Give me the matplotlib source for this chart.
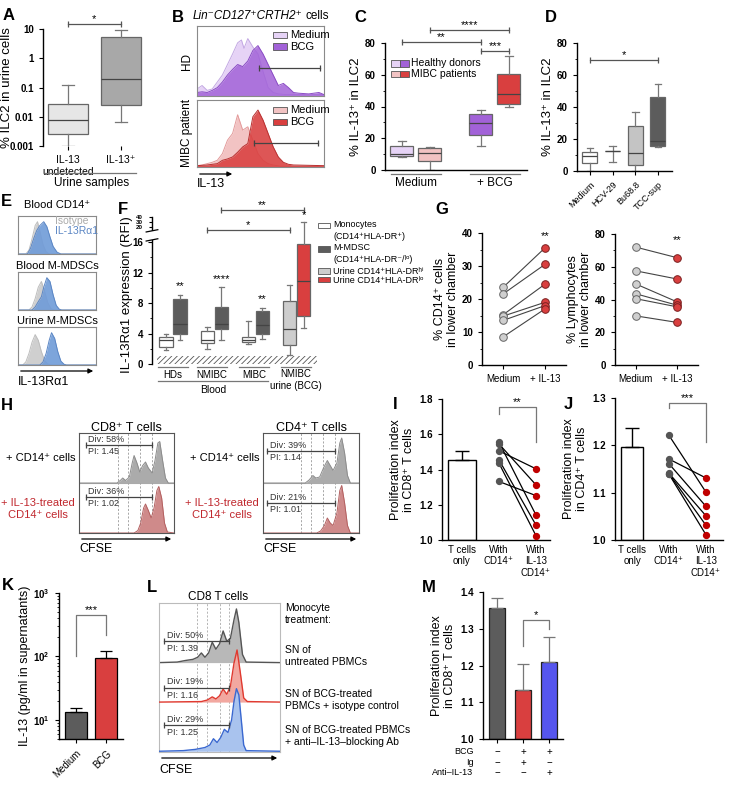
import numpy as np
import matplotlib
matplotlib.use("Agg")
import matplotlib.pyplot as plt
from matplotlib.patches import Rectangle, FancyArrowPatch
from matplotlib.ticker import NullLocator, FixedLocator

plt.rcParams['font.family'] = ['Liberation Sans', 'DejaVu Sans']
plt.rcParams['font.size'] = 7
plt.rcParams['mathtext.fontset'] = 'custom'
plt.rcParams['mathtext.rm'] = 'Liberation Sans'
plt.rcParams['mathtext.bf'] = 'Liberation Sans:bold'
plt.rcParams['axes.linewidth'] = 1.0
plt.rcParams['xtick.major.size'] = 3
plt.rcParams['ytick.major.size'] = 3
plt.rcParams['ytick.minor.size'] = 1.8
plt.rcParams['xtick.labelsize'] = 7
plt.rcParams['ytick.labelsize'] = 7
plt.rcParams['hatch.linewidth'] = 0.6

RED = '#d93f3f'
LAV = '#e6d3f6'
PUR = '#a262d8'
PINK = '#f2c3c3'
DARK = '#5c5c5c'

# ==========================
# data
# ==========================
# A - five number summaries (whislo, q1, med, q3, whishi)
a_labels = ['IL-13\nundetected', 'IL-13⁺']
a_boxes = [(0.001, 0.0026, 0.008, 0.027, 0.12), (0.0065, 0.025, 0.19, 5.3, 9.0)]

# B - flow histograms, (x fraction, height fraction)
b_hd_medium = [(0, .10), (.04, .15), (.08, .08), (.12, .10), (.16, .20), (.20, .30), (.24, .45), (.28, .60),
               (.32, .76), (.35, .80), (.37, .68), (.40, .82), (.44, .70), (.48, .60), (.52, .35), (.56, .12),
               (.60, .05), (.64, .03), (.70, .02), (1, .02)]
b_hd_bcg = [(0, .05), (.04, .06), (.08, .05), (.12, .08), (.16, .12), (.20, .20), (.24, .30), (.28, .38),
            (.32, .45), (.36, .42), (.40, .50), (.44, .65), (.48, .72), (.52, .60), (.56, .45), (.60, .30),
            (.64, .15), (.68, .18), (.72, .12), (.76, .05), (.80, .04), (.88, .03), (.96, .05), (1, .02)]
b_mibc_medium = [(0, .02), (.04, .03), (.08, .05), (.12, .07), (.16, .10), (.20, .20), (.24, .40), (.28, .50),
                 (.32, .78), (.36, .55), (.40, .60), (.44, .40), (.48, .20), (.52, .10), (.56, .05),
                 (.60, .03), (.66, .01), (1, .01)]
b_mibc_bcg = [(0, .02), (.08, .03), (.16, .05), (.20, .10), (.24, .12), (.28, .15), (.32, .22), (.36, .30),
              (.40, .35), (.44, .75), (.48, .85), (.52, .70), (.56, .50), (.60, .30), (.64, .15), (.68, .07),
              (.72, .04), (.76, .03), (1, .02)]

# C
c_groups = ['Medium', '+ BCG']
c_hd = [(8.5, 9, 10, 15, 18.5), (15, 22, 29.5, 35, 37.5)]
c_mibc = [(0, 5.5, 11, 14, 14.5), (39.5, 41.5, 48, 60.5, 71.5)]

# D
d_labels = ['Medium', 'HCV-29', 'Bu68.8', 'TCC-sup']
d_boxes = [(0, 5, 9.5, 12, 14.5), (5.5, 12.5, 12.5, 12.5, 15.5), (0, 3.5, 11.5, 28, 37), (15, 15.5, 18.5, 46.5, 54.5)]

# E
e_titles = ['Blood CD14⁺', 'Blood M-MDSCs', 'Urine M-MDSCs']
e_isotype = [
    [(0, 0), (.10, 0), (.14, .10), (.18, .40), (.22, .75), (.25, .85), (.28, .60), (.32, .25), (.36, .06), (.40, 0), (1, 0)],
    [(0, 0), (.14, 0), (.18, .08), (.22, .30), (.26, .60), (.30, .75), (.34, .50), (.38, .20), (.42, .04), (.46, 0), (1, 0)],
    [(0, 0), (.06, 0), (.10, .08), (.14, .30), (.18, .60), (.22, .80), (.26, .65), (.30, .35), (.34, .12), (.38, .03), (.42, 0), (1, 0)],
]
e_il13ra1 = [
    [(0, 0), (.12, 0), (.16, .15), (.20, .40), (.24, .62), (.28, .75), (.33, .85), (.37, .72), (.41, .45), (.45, .20), (.50, .05), (.55, 0), (1, 0)],
    [(0, 0), (.18, 0), (.22, .08), (.26, .22), (.30, .35), (.33, .60), (.37, .85), (.41, .75), (.45, .40), (.49, .12), (.53, .02), (.56, 0), (1, 0)],
    [(0, 0), (.28, 0), (.32, .08), (.36, .30), (.40, .65), (.43, .85), (.47, .70), (.51, .35), (.55, .10), (.59, .02), (.62, 0), (1, 0)],
]

# F
f_groups = ['HDs', 'NMIBC', 'MIBC', 'NMIBC\nurine (BCG)']
f_mono = [(1.8, 2.2, 3.2, 3.5, 3.9), (2.0, 2.7, 3.1, 4.3, 4.8), (2.6, 2.9, 3.2, 3.6, 5.6), (1.2, 2.5, 4.6, 8.3, 10.4)]
f_mdsc = [(3.1, 4.0, 5.3, 8.6, 9.0), (3.2, 4.6, 5.3, 7.5, 10.1), (3.3, 3.9, 5.1, 7.0, 7.4), (4.7, 6.3, 10.9, 15.8, 31)]
f_stars = ['**', '****', '**', '*']
f_star_y = [9.6, 10.5, 7.9, 33]
f_legend = ['Monocytes\n(CD14⁺HLA-DR⁺)', 'M-MDSC\n(CD14⁺HLA-DR⁻/ˡᵒ)', 'Urine CD14⁺HLA-DRʰⁱ', 'Urine CD14⁺HLA-DRˡᵒ']

# G
g_cd14_medium = [23.5, 21.5, 15.2, 14.8, 13.5, 8.5]
g_cd14_il13 = [35.5, 30.5, 24.5, 19.0, 18.0, 17.0]
g_lym_medium = [72, 57.5, 49.5, 43.5, 40.5, 30]
g_lym_il13 = [65.5, 52.5, 38.5, 36.5, 35.5, 26]

# H
h_cd8_plain = [(0, 0), (.40, 0), (.44, .06), (.46, .10), (.49, .05), (.53, .12), (.56, .40), (.58, .55), (.61, .40),
               (.64, .22), (.67, .35), (.70, .42), (.73, .30), (.77, .20), (.80, .45), (.83, .80), (.85, .83),
               (.88, .45), (.91, .10), (.94, 0), (1, 0)]
h_cd8_il13 = [(0, 0), (.58, 0), (.62, .05), (.65, .20), (.68, .50), (.70, .58), (.73, .45), (.76, .30), (.79, .50),
              (.82, .85), (.84, .93), (.87, .70), (.90, .20), (.93, .02), (1, 0)]
h_cd4_plain = [(0, 0), (.44, 0), (.48, .06), (.52, .15), (.55, .10), (.59, .12), (.63, .30), (.67, .45), (.70, .35),
               (.73, .25), (.77, .40), (.80, .80), (.82, .90), (.85, .60), (.88, .15), (.91, 0), (1, 0)]
h_cd4_il13 = [(0, 0), (.56, 0), (.60, .04), (.64, .15), (.67, .30), (.70, .20), (.73, .15), (.77, .40), (.80, .85),
              (.82, .95), (.85, .60), (.88, .15), (.91, 0), (1, 0)]
h_cd8_text = [('Div: 58%', 'PI: 1.45'), ('Div: 36%', 'PI: 1.02')]
h_cd4_text = [('Div: 39%', 'PI: 1.14'), ('Div: 21%', 'PI: 1.01')]

# I, J
i_labels = ['T cells\nonly', 'With\nCD14⁺', 'With\nIL-13\nCD14⁺']
i_bar, i_err = 1.455, 0.05
i_cd14 = [1.555, 1.545, 1.506, 1.455, 1.436, 1.332]
i_il13 = [1.142, 1.313, 1.404, 1.085, 1.025, 1.252]
j_bar, j_err = 1.197, 0.04
j_cd14 = [1.221, 1.171, 1.161, 1.141, 1.140, 1.139]
j_il13 = [1.101, 1.131, 1.071, 1.051, 1.031, 1.011]

# K
k_labels = ['Medium', 'BCG']
k_mean = [13.5, 95]
k_err = [2.0, 27]

# L
l_plain = [(0, 0), (.15, .01), (.22, .04), (.28, .06), (.32, .10), (.35, .18), (.38, .10), (.41, .18), (.44, .38),
           (.47, .25), (.50, .35), (.53, .59), (.56, .40), (.59, .45), (.62, .80), (.64, 1.0), (.66, .75),
           (.69, .15), (.72, .01), (1, 0)]
l_isotype = [(0, 0), (.35, .01), (.40, .04), (.44, .10), (.47, .06), (.50, .12), (.53, .25), (.56, .15), (.59, .30),
             (.62, .75), (.645, 1.0), (.67, .60), (.70, .08), (.73, .01), (1, 0)]
l_block = [(0, 0), (.20, .01), (.30, .03), (.38, .06), (.42, .10), (.45, .20), (.48, .14), (.51, .22), (.54, .35),
           (.57, .30), (.60, .50), (.62, .80), (.64, 1.0), (.66, .90), (.68, .50), (.70, .10), (.72, .01), (1, 0)]
l_text = [('Div: 50%', 'PI: 1.39'), ('Div: 19%', 'PI: 1.16'), ('Div: 29%', 'PI: 1.25')]
l_conditions = ['SN of\nuntreated PBMCs', 'SN of BCG-treated\nPBMCs + isotype control',
                'SN of BCG-treated PBMCs\n+ anti–IL-13–blocking Ab']

# M
m_mean = [1.357, 1.132, 1.21]
m_err = [0.028, 0.073, 0.067]
m_rows = ['BCG', 'Ig', 'Anti–IL-13']
m_signs = [['−', '+', '+'], ['−', '+', '−'], ['−', '−', '+']]

# ==========================
# helpers
# ==========================
W, H = 736, 786
fig = plt.figure(figsize=(W / 100, H / 100), dpi=100)


def box_at(x0, y0, x1, y1):
    return fig.add_axes([x0 / W, 1 - y1 / H, (x1 - x0) / W, (y1 - y0) / H])


def ftext(x, y, s, **kw):
    kw.setdefault('ha', 'center')
    kw.setdefault('va', 'center')
    return fig.text(x / W, 1 - y / H, s, **kw)


def fline(x0, x1, y, color='#555', lw=0.9):
    fig.add_artist(plt.Line2D([x0 / W, x1 / W], [1 - y / H, 1 - y / H], color=color, lw=lw))


def farrow(x0, x1, y):
    fig.add_artist(FancyArrowPatch((x0 / W, 1 - y / H), (x1 / W, 1 - y / H), transform=fig.transFigure,
                                   arrowstyle='-|>', mutation_scale=7, lw=0.9, color='black'))


def fpatch(x, y, w, h, color):
    fig.add_artist(Rectangle((x / W, 1 - (y + h) / H), w / W, h / H, transform=fig.transFigure,
                             facecolor=color, edgecolor='#555', lw=0.6))


def letter(x, y, s):
    ftext(x, y, s, fontsize=12, fontweight='bold')


def clean(ax, bottom=True):
    ax.spines[['top', 'right']].set_visible(False)
    if not bottom:
        ax.spines['bottom'].set_visible(False)
    for t in ax.get_yticklabels():
        t.set_fontweight('bold')


def boxes(ax, data, pos, width, colors, capw):
    stats = [dict(whislo=d[0], q1=d[1], med=d[2], q3=d[3], whishi=d[4]) for d in data]
    art = ax.bxp(stats, positions=pos, widths=width, capwidths=capw, patch_artist=True, showfliers=False,
                 manage_ticks=False, boxprops=dict(edgecolor='#666', lw=0.9),
                 whiskerprops=dict(color='#777', lw=0.9), capprops=dict(color='#777', lw=0.9),
                 medianprops=dict(color='#444', lw=0.9))
    for p, c in zip(art['boxes'], colors):
        p.set_facecolor(c)


def hist(ax, curve, base=0, scale=1, fc='#aaa', ec='#777', alpha=1.0, z=1, lw=0.7):
    x = [p[0] for p in curve]
    y = [base + scale * p[1] for p in curve]
    ax.fill_between(x, base, y, color=fc, alpha=alpha, lw=0, zorder=z)
    ax.plot(x, y, color=ec, lw=lw, zorder=z)


def flow_ax(x0, y0, x1, y1, ec='#8a8a8a', ymax=1):
    ax = box_at(x0, y0, x1, y1)
    ax.set_xlim(0, 1)
    ax.set_ylim(0, ymax)
    ax.set_xticks([])
    ax.set_yticks([])
    for s in ax.spines.values():
        s.set_color(ec)
        s.set_linewidth(0.8)
    return ax


def gate(ax, x0, x1, y, color='#444'):
    ax.plot([x0, x1], [y, y], color=color, lw=0.9, marker='|', ms=5, mew=0.9, zorder=5)


def capbar(ax, x0, x1, y, txt, trans=None, size=8):
    trans = trans or ax.transData
    ax.plot([x0, x1], [y, y], color='#555', lw=0.9, marker='|', ms=5, mew=0.9, transform=trans, clip_on=False)
    ax.text((x0 + x1) / 2, y, txt, ha='center', va='bottom', fontsize=size, transform=trans)


def bracket(ax, x0, x1, top, yl, yr, txt):
    ax.plot([x0, x0, x1, x1], [yl, top, top, yr], color='#777', lw=0.9, clip_on=False)
    ax.text((x0 + x1) / 2, top, txt, ha='center', va='bottom', fontsize=8)


# ==========================
# A
# ==========================
letter(9, 16, 'A')
ax = box_at(43, 29, 148, 146)
ax.set_yscale('log')
boxes(ax, a_boxes, [0, 1], 0.74, ['#e6e6e6', '#a8a8a8'], 0.22)
ax.set_ylim(0.001, 10)
ax.set_xlim(-0.47, 1.51)
ax.set_yticks([0.001, 0.01, 0.1, 1, 10], ['0.001', '0.01', '0.1', '1', '10'])
ax.yaxis.set_minor_locator(NullLocator())
ax.set_xticks([0, 1], a_labels, fontsize=7.5)
ax.set_ylabel('% ILC2 in urine cells', fontsize=9.5)
ax.yaxis.set_label_coords(-0.29, 0.5)
clean(ax, bottom=False)
capbar(ax, 0, 1, 1.045, '*', trans=ax.get_xaxis_transform())
fline(45, 136, 173, color='#777')
ftext(92, 183, 'Urine samples', fontsize=8.5)

# ==========================
# B
# ==========================
letter(178, 17, 'B')
t = ftext(193, 16, 'Lin⁻CD127⁺CRTH2⁺', ha='left', style='italic', fontsize=8.5)
bb = t.get_window_extent(renderer=fig.canvas.get_renderer())
ftext(bb.x1 + 3, 16, 'cells', ha='left', fontsize=8.5)
ax = flow_ax(197, 26, 324, 96)
hist(ax, b_hd_medium, fc=LAV, ec='#c3a8e3')
hist(ax, b_hd_bcg, fc=PUR, ec='#8a4cc4', alpha=0.85, z=2)
gate(ax, 0.49, 0.97, 0.40)
for k, (lab, c) in enumerate(zip(['Medium', 'BCG'], [LAV, PUR])):
    ax.add_patch(Rectangle((0.6, 0.83 - 0.17 * k), 0.11, 0.09, facecolor=c, edgecolor='#555', lw=0.6, zorder=6))
    ax.text(0.73, 0.875 - 0.17 * k, lab, va='center', fontsize=8, zorder=6)
ftext(187, 61, 'HD', rotation=90, fontsize=8.5)
ax = flow_ax(197, 100, 324, 167)
hist(ax, b_mibc_medium, fc=PINK, ec='#e39a9a')
hist(ax, b_mibc_bcg, fc=RED, ec='#b83030', alpha=0.88, z=2)
gate(ax, 0.45, 0.95, 0.36)
for k, (lab, c) in enumerate(zip(['Medium', 'BCG'], [PINK, RED])):
    ax.add_patch(Rectangle((0.6, 0.80 - 0.17 * k), 0.11, 0.09, facecolor=c, edgecolor='#555', lw=0.6, zorder=6))
    ax.text(0.73, 0.845 - 0.17 * k, lab, va='center', fontsize=8, zorder=6)
ftext(187, 133, 'MIBC patient', rotation=90, fontsize=8.5)
farrow(197, 235, 174)
ftext(197, 184, 'IL-13', ha='left', fontsize=9)

# ==========================
# C
# ==========================
letter(360, 17, 'C')
ax = box_at(385, 43, 527, 170)
hd_pos = [g - 0.177 for g in range(2)]
mibc_pos = [g + 0.177 for g in range(2)]
boxes(ax, c_hd, hd_pos, 0.29, [LAV, PUR], 0.1)
boxes(ax, c_mibc, mibc_pos, 0.29, [PINK, RED], 0.1)
ax.set_xlim(-0.39, 1.405)
ax.set_ylim(0, 80)
ax.set_yticks([0, 20, 40, 60, 80])
ax.yaxis.set_minor_locator(FixedLocator([10, 30, 50, 70]))
ax.set_xticks([])
ax.set_ylabel('% IL-13⁺ in ILC2', fontsize=9.5, labelpad=2)
clean(ax)
capbar(ax, hd_pos[0], hd_pos[1], 80.6, '**')
capbar(ax, mibc_pos[0], mibc_pos[1], 88.2, '****')
capbar(ax, hd_pos[1], mibc_pos[1], 75, '***')
for gx, lab in zip([416, 495], c_groups):
    fline(gx - 25, gx + 25, 174, color='#777')
    ftext(gx, 183, lab, fontsize=8.5)
for k, (lab, c1, c2) in enumerate(zip(['Healthy donors', 'MIBC patients'], [LAV, PINK], [PUR, RED])):
    fpatch(391, 60 + 10.5 * k, 9, 6.5, c1)
    fpatch(400, 60 + 10.5 * k, 9, 6.5, c2)
    ftext(411, 63.5 + 10.5 * k, lab, ha='left', fontsize=7.5)

# ==========================
# D
# ==========================
letter(551, 17, 'D')
ax = box_at(577, 43, 672, 171)
boxes(ax, d_boxes, list(range(4)), 0.66, ['white', 'white', '#c4c4c4', DARK], 0.3)
ax.set_xlim(-0.57, 3.62)
ax.set_ylim(0, 80)
ax.set_yticks([0, 20, 40, 60, 80])
ax.yaxis.set_minor_locator(FixedLocator([10, 30, 50, 70]))
ax.set_xticks(range(4), d_labels, rotation=45, ha='right', rotation_mode='anchor', fontsize=6.5)
ax.set_ylabel('% IL-13⁺ in ILC2', fontsize=9.5, labelpad=2)
clean(ax)
capbar(ax, 0, 3, 69.4, '*')

# ==========================
# E
# ==========================
letter(6, 201, 'E')
for k, (title, y0) in enumerate(zip(e_titles, [216, 272, 327])):
    ftext(57, y0 - 11 if k == 0 else y0 - 6, title, fontsize=8)
    ax = flow_ax(18, y0, 96, y0 + 38)
    hist(ax, e_isotype[k], fc='#cfcfcf', ec='#bdbdbd')
    hist(ax, e_il13ra1[k], fc='#6f9bd8', ec='#5b86c4', alpha=0.9, z=2)
    if k == 0:
        ax.text(0.47, 0.86, 'Isotype', color='#aaaaaa', va='center', fontsize=7.5, zorder=6)
        ax.text(0.47, 0.60, 'IL-13Rα1', color='#5b86c4', va='center', fontsize=7.5, zorder=6)
farrow(18, 96, 371)
ftext(18, 382, 'IL-13Rα1', ha='left', fontsize=9)

# ==========================
# F
# ==========================
letter(123, 209, 'F')


def f_fwd(y):
    y = np.asarray(y, float)
    return np.where(y <= 16, y, np.where(y <= 20, 16 + (y - 16) * 0.496, 17.983 + (y - 20) * 0.0661))


def f_inv(s):
    s = np.asarray(s, float)
    return np.where(s <= 16, s, np.where(s <= 17.983, 16 + (s - 16) / 0.496, 20 + (s - 17.983) / 0.0661))


ax = box_at(152, 217, 318, 364)
ax.set_yscale('function', functions=(f_fwd, f_inv))
mono_pos = [g - 0.17 for g in range(4)]
mdsc_pos = [g + 0.17 for g in range(4)]
boxes(ax, f_mono, mono_pos, 0.32, ['white', 'white', 'white', '#cdcdcd'], 0.12)
boxes(ax, f_mdsc, mdsc_pos, 0.32, [DARK, DARK, DARK, RED], 0.12)
ax.fill_between([-0.39, 3.5], 0, 1, facecolor='white', edgecolor='#555', hatch='//////', lw=0, zorder=0)
ax.set_xlim(-0.51, 3.52)
ax.set_ylim(0, 40)
ax.set_yticks([0, 4, 8, 12, 16, 20, 30, 40])
ax.yaxis.set_minor_locator(FixedLocator([2, 6, 10, 14]))
for tk in ax.yaxis.get_major_ticks()[5:]:
    tk.label1.set_fontsize(4.5)
    tk.tick1line.set_markersize(2)
ax.set_xticks([])
ax.set_ylabel('IL-13Rα1 expression (RFI)', fontsize=9.5)
ax.yaxis.set_label_coords(-0.115, 0.47)
clean(ax, bottom=False)
ytr = ax.get_yaxis_transform()
ax.add_patch(Rectangle((-0.03, 16.6), 0.06, 2.4, transform=ytr, facecolor='white', edgecolor='none',
                       clip_on=False, zorder=5))
for yb in (16.6, 19.0):
    ax.plot([-0.035, 0.035], [yb - 0.3, yb + 0.3], color='black', lw=0.9, transform=ytr, clip_on=False, zorder=6)
for x, s, y in zip(mdsc_pos, f_stars, f_star_y):
    ax.text(x, y, s, ha='center', va='bottom', fontsize=8)
capbar(ax, mono_pos[1], mono_pos[3], 0.912, '*', trans=ax.get_xaxis_transform())
capbar(ax, mdsc_pos[1], mdsc_pos[3], 1.048, '**', trans=ax.get_xaxis_transform())
for gx, lab in zip([173, 212, 254, 296], f_groups):
    fline(gx - 15, gx + 15, 367, color='#777')
    ftext(gx, 380 if '\n' in lab else 375, lab, fontsize=7, linespacing=1.3)
fline(158, 268, 381, color='#777')
ftext(213, 390, 'Blood', fontsize=7.5)
for lab, c, yy in zip(f_legend, ['white', DARK, '#cdcdcd', RED], [226, 249, 271, 280]):
    fpatch(318, yy - 3, 12, 5.5, c)
    ftext(333, yy + (4.5 if '\n' in lab else 0), lab, ha='left', fontsize=6.5, linespacing=1.35)

# ==========================
# G
# ==========================
letter(442, 210, 'G')
for (x0, x1, top, ymax, major, minor, med, il13, ylab, star) in [
        (482, 566, 233, 40, [0, 10, 20, 30, 40], [5, 15, 25, 35], g_cd14_medium, g_cd14_il13,
         '% CD14⁺ cells\nin lower chamber', 37.5),
        (615, 698, 234, 80, [0, 20, 40, 60, 80], [10, 30, 50, 70], g_lym_medium, g_lym_il13,
         '% Lymphocytes\nin lower chamber', 73)]:
    ax = box_at(x0, top, x1, 365)
    for a, b in zip(med, il13):
        ax.plot([0, 1], [a, b], color='#444', lw=0.8, zorder=1)
    ax.scatter([0] * len(med), med, s=30, color='#cfcfcf', edgecolor='#666', lw=0.7, zorder=3)
    ax.scatter([1] * len(il13), il13, s=30, color=RED, edgecolor='#7a2020', lw=0.7, zorder=3)
    ax.text(1, star, '**', ha='center', va='bottom', fontsize=8)
    ax.set_xlim(-0.5, 1.5)
    ax.set_ylim(0, ymax)
    ax.set_yticks(major)
    ax.yaxis.set_minor_locator(FixedLocator(minor))
    ax.set_xticks([0, 1], ['Medium', '+ IL-13'], fontsize=7)
    ax.set_ylabel(ylab, fontsize=9, labelpad=2, linespacing=1.1)
    clean(ax)

# ==========================
# H
# ==========================
letter(7, 406, 'H')
for (x0, x1, title, plain, il13, texts, dashes, gx0) in [
        (79, 174, 'CD8⁺ T cells', h_cd8_plain, h_cd8_il13, h_cd8_text, [0.415, 0.52, 0.64, 0.77], 0.07),
        (263, 359, 'CD4⁺ T cells', h_cd4_plain, h_cd4_il13, h_cd4_text, [0.40, 0.505, 0.62, 0.75], 0.04)]:
    ftext((x0 + x1) / 2, 428, title, fontsize=9)
    ax = flow_ax(x0, 433, x1, 533, ec='#555', ymax=2)
    ax.axhline(1, color='#aaaaaa', lw=0.8)
    for d in dashes:
        ax.axvline(d, color='#999999', lw=0.6, ls=(0, (2.5, 2)))
    hist(ax, plain, base=1, fc='#ababab', ec='#8c8c8c', z=2)
    hist(ax, il13, base=0, fc='#cf8a8a', ec='#b36060', z=2)
    gy = [1.76, 0.72] if x0 < 200 else [1.64, 0.60]
    for (dv, pi), yy in zip(texts, gy):
        gate(ax, gx0, dashes[-1], yy)
        ax.text(gx0 + 0.03, yy + 0.02, dv, fontsize=6.5, va='bottom', color='#333')
        ax.text(gx0 + 0.03, yy - 0.04, pi, fontsize=6.5, va='top', color='#333')
    farrow(x0, x1, 539)
    ftext(x0, 549, 'CFSE', ha='left', fontsize=9)
    ftext(x0 - 4, 458, '+ CD14⁺ cells', ha='right', fontsize=8)
    ftext(x0 - 4, 509, '+ IL-13-treated\nCD14⁺ cells', ha='right', multialignment='center',
          fontsize=8, color='#c0272d', linespacing=1.2)

# ==========================
# I, J
# ==========================
for (x0, x1, top, lab, bar, err, cd14, il13, lims, ticks, width, br, lt) in [
        (442, 550, 399, 'I', i_bar, i_err, i_cd14, i_il13, (1.0, 1.8), [1.0, 1.2, 1.4, 1.6, 1.8], 0.76,
         (1.755, 1.715, 1.556, '**'), (-0.54, 2.38)),
        (615, 723, 398, 'J', j_bar, j_err, j_cd14, j_il13, (1.0, 1.3), [1.0, 1.1, 1.2, 1.3], 0.58,
         (1.289, 1.279, 1.207, '***'), (-0.46, 2.46))]:
    letter(x0 - 47, 404, lab)
    ax = box_at(x0, top, x1, 540)
    ax.bar([0], [bar - lims[0]], bottom=lims[0], width=width, color='white', edgecolor='black', lw=1.0)
    ax.errorbar([0], [bar], yerr=[[0], [err]], color='black', lw=1.0, capsize=5, capthick=1.0)
    for a, b in zip(cd14, il13):
        ax.plot([1, 2], [a, b], color='black', lw=0.9, zorder=1)
    ax.scatter([1] * len(cd14), cd14, s=18, color='#555555', zorder=3)
    ax.scatter([2] * len(il13), il13, s=18, color='#c00000', zorder=3)
    bracket(ax, 1, 2, br[0], br[1], br[2], br[3])
    ax.set_xlim(*lt)
    ax.set_ylim(*lims)
    ax.set_yticks(ticks, [f'{v:.1f}' for v in ticks])
    ax.set_xticks([0, 1, 2], i_labels, fontsize=7)
    ax.tick_params(axis='x', length=0)
    ax.set_ylabel('Proliferation index\nin ' + ('CD8⁺' if lab == 'I' else 'CD4⁺') + ' T cells',
                  fontsize=9, labelpad=3, linespacing=1.1)
    clean(ax)

# ==========================
# K
# ==========================
letter(8, 586, 'K')
ax = box_at(59, 593, 123, 739)
ax.set_yscale('log')
ax.bar([0, 1], k_mean, width=0.73, color=[DARK, RED], edgecolor='black', lw=0.9)
ax.errorbar([0, 1], k_mean, yerr=[[0, 0], k_err], fmt='none', ecolor='black', lw=0.9, capsize=4, capthick=0.9)
ax.set_ylim(5, 1000)
ax.set_xlim(-0.57, 1.57)
ax.set_yticks([10, 100, 1000], [r'$\mathbf{10^{1}}$', r'$\mathbf{10^{2}}$', r'$\mathbf{10^{3}}$'])
ax.set_xticks([0, 1], k_labels, rotation=45, ha='right', rotation_mode='anchor', fontsize=7)
ax.set_ylabel('IL-13 (pg/ml in supernatants)', fontsize=9, labelpad=2)
clean(ax)
bracket(ax, 0, 1, 450, 102, 219, '***')

# ==========================
# L
# ==========================
letter(152, 588, 'L')
ftext(218, 597, 'CD8 T cells', fontsize=8.5)
ax = flow_ax(159, 603, 280, 752, ec='#bbbbbb')
for d in [0.315, 0.40, 0.50, 0.58]:
    ax.axvline(d, color='#aaaaaa', lw=0.6, ls=(0, (2.5, 2)), zorder=0)
hist(ax, l_plain, base=0.60, scale=0.36, fc='#b8b8b8', ec='#555555', z=2, lw=1.0)
hist(ax, l_isotype, base=0.335, scale=0.35, fc='#f2a8a0', ec='#e03a30', z=3, lw=1.0)
hist(ax, l_block, base=0.005, scale=0.42, fc='#a9c3ee', ec='#3a68d0', z=4, lw=1.0)
for (dv, pi), yy in zip(l_text, [0.745, 0.43, 0.18]):
    gate(ax, 0.04, 0.58, yy)
    ax.text(0.065, yy + 0.01, dv, fontsize=6.5, va='bottom', color='#333', zorder=6)
    ax.text(0.065, yy - 0.02, pi, fontsize=6.5, va='top', color='#333', zorder=6)
farrow(159, 280, 758)
ftext(159, 770, 'CFSE', ha='left', fontsize=9)
ftext(285, 614, 'Monocyte\ntreatment:', ha='left', fontsize=7.5, linespacing=1.2)
for lab, yy in zip(l_conditions, [656, 700, 736]):
    ftext(285, yy, lab, ha='left', fontsize=7.5, linespacing=1.2)

# ==========================
# M
# ==========================
letter(429, 587, 'M')
ax = box_at(483, 592, 563, 739)
ax.bar(range(3), [m - 1.0 for m in m_mean], bottom=1.0, width=0.65, color=[DARK, RED, '#5555ee'],
       edgecolor='#222', lw=0.9)
ax.errorbar(range(3), m_mean, yerr=[[0, 0, 0], m_err], fmt='none', ecolor='#777', lw=0.9, capsize=4, capthick=0.9)
ax.set_ylim(1.0, 1.4)
ax.set_xlim(-0.54, 2.54)
ax.set_yticks([1.0, 1.1, 1.2, 1.3, 1.4], ['1.0', '1.1', '1.2', '1.3', '1.4'])
ax.set_xticks(range(3), ['', '', ''])
ax.set_ylabel('Proliferation index\nin CD8⁺ T cells', fontsize=9, labelpad=3, linespacing=1.1)
clean(ax)
bracket(ax, 1, 2, 1.324, 1.253, 1.30, '*')
xtr = ax.get_xaxis_transform()
for r, (row, signs) in enumerate(zip(m_rows, m_signs)):
    yy = [-0.088, -0.163, -0.231][r]
    ax.text(-0.12, yy, row, transform=ax.transAxes, ha='right', va='center', fontsize=6.5)
    for x, s in enumerate(signs):
        ax.text(x, yy, s, transform=xtr, ha='center', va='center', fontsize=7)

fig.savefig('out.png', dpi=100)
